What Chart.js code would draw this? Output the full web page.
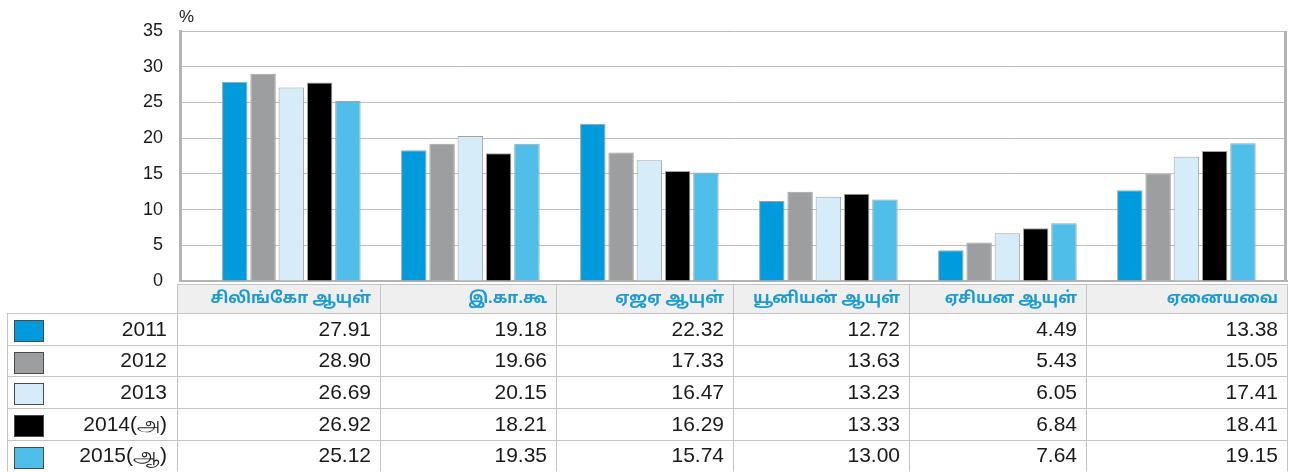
<!DOCTYPE html>
<html>
<head>
<meta charset="utf-8">
<script src="https://cdn.jsdelivr.net/npm/chart.js@4.4.0/dist/chart.umd.min.js"></script>
<style>
  html, body { margin: 0; padding: 0; background: #fff; }
</style>
</head>
<body>
<canvas id="chart" width="1299" height="472"></canvas>
<script>
const categories = ['சிலிங்கோ ஆயுள்', 'இ.கா.கூ', 'ஏஜஏ ஆயுள்', 'யூனியன் ஆயுள்', 'ஏசியன ஆயுள்', 'ஏனையவை'];
const years = ['2011', '2012', '2013', '2014(அ)', '2015(ஆ)'];
const colors = ['#009bdc', '#9d9ea0', '#d6ecf8', '#000000', '#4fbfea'];

// bar heights as drawn in the picture
const bars2011 = [27.9, 18.3, 22.0, 11.2, 4.3, 12.7];
const bars2012 = [29.0, 19.2, 18.0, 12.5, 5.4, 15.0];
const bars2013 = [27.1, 20.3, 16.9, 11.8, 6.7, 17.4];
const bars2014 = [27.8, 17.9, 15.4, 12.2, 7.4, 18.2];
const bars2015 = [25.2, 19.2, 15.2, 11.4, 8.1, 19.3];

// figures printed in the data table
const table2011 = ['27.91', '19.18', '22.32', '12.72', '4.49', '13.38'];
const table2012 = ['28.90', '19.66', '17.33', '13.63', '5.43', '15.05'];
const table2013 = ['26.69', '20.15', '16.47', '13.23', '6.05', '17.41'];
const table2014 = ['26.92', '18.21', '16.29', '13.33', '6.84', '18.41'];
const table2015 = ['25.12', '19.35', '15.74', '13.00', '7.64', '19.15'];

const barRows = [bars2011, bars2012, bars2013, bars2014, bars2015];
const tableRows = [table2011, table2012, table2013, table2014, table2015];

const NUM_FONT = '"Liberation Sans", Arial, sans-serif';
const TAMIL_FONT = '"Noto Sans Tamil", "Lohit Tamil", "Liberation Sans", sans-serif';

// data table drawn under the plot
const tablePlugin = {
    id: 'dataTable',
    afterDraw(chart) {
        const ctx = chart.ctx;
        const area = chart.chartArea;
        const cols = [177, 380, 556, 733, 909, 1086, 1287];
        const legendLeft = 7;
        const headTop = 284, headBottom = 313, rowH = 31.7;
        const bottom = headBottom + rowH * years.length;
        const px = v => Math.round(v) + 0.5;

        ctx.save();

        // % label and right frame
        ctx.fillStyle = '#1a1a1a';
        ctx.font = '17px ' + NUM_FONT;
        ctx.textAlign = 'left';
        ctx.textBaseline = 'middle';
        ctx.fillText('%', area.left - 1, 17);

        ctx.strokeStyle = '#b3b3b3';
        ctx.lineWidth = 3;
        ctx.beginPath();
        ctx.moveTo(area.right - 1.5, area.top);
        ctx.lineTo(area.right - 1.5, area.bottom + 1);
        ctx.stroke();

        // header background
        ctx.fillStyle = '#efefef';
        ctx.fillRect(cols[0], headTop, cols[cols.length - 1] - cols[0], headBottom - headTop);

        ctx.strokeStyle = '#c4c4c4';
        ctx.lineWidth = 1;
        ctx.beginPath();
        ctx.moveTo(cols[0], px(headTop));
        ctx.lineTo(cols[cols.length - 1], px(headTop));
        for (let r = 0; r <= years.length; r++) {
            const y = px(headBottom + rowH * r);
            ctx.moveTo(legendLeft, y);
            ctx.lineTo(cols[cols.length - 1], y);
        }
        ctx.moveTo(px(legendLeft), headBottom);
        ctx.lineTo(px(legendLeft), bottom);
        cols.forEach(x => {
            ctx.moveTo(px(x), headTop);
            ctx.lineTo(px(x), bottom);
        });
        ctx.stroke();

        // header labels
        ctx.textAlign = 'right';
        ctx.fillStyle = '#1b9ad8';
        ctx.font = 'bold 16px ' + TAMIL_FONT;
        categories.forEach((c, i) => {
            ctx.fillText(c, cols[i + 1] - 9, (headTop + headBottom) / 2 + 1);
        });

        // rows
        years.forEach((yr, r) => {
            const top = headBottom + rowH * r;
            const yc = top + rowH / 2 + 1;
            ctx.fillStyle = colors[r];
            ctx.fillRect(14, Math.round(top) + 7, 30, 22);
            ctx.strokeStyle = '#4a4a4a';
            ctx.strokeRect(14.5, Math.round(top) + 7.5, 29, 21);

            ctx.fillStyle = '#1a1a1a';
            ctx.font = '21px ' + NUM_FONT;
            ctx.fillText(yr, 167, yc);
            tableRows[r].forEach((v, c) => {
                ctx.fillText(v, cols[c + 1] - 9, yc);
            });
        });

        ctx.restore();
    }
};

new Chart(document.getElementById('chart'), {
    type: 'bar',
    data: {
        datasets: years.map((yr, r) => ({
            label: yr,
            data: barRows[r].map((v, i) => ({ x: i, y: v })),
            backgroundColor: colors[r],
            borderColor: '#a3a3a3',
            borderWidth: 1,
            categoryPercentage: 0.79,
            barPercentage: 0.9
        }))
    },
    options: {
        responsive: false,
        animation: false,
        layout: { padding: { top: 31, right: 12, bottom: 191, left: 0 } },
        plugins: {
            legend: { display: false },
            tooltip: { enabled: false }
        },
        scales: {
            x: {
                type: 'linear',
                offset: false,
                min: -0.622,
                max: 5.562,
                ticks: { display: false, stepSize: 1, includeBounds: false },
                grid: { display: false, drawTicks: false, offset: false },
                border: { display: true, color: '#b3b3b3', width: 2 }
            },
            y: {
                min: 0,
                max: 35,
                ticks: {
                    stepSize: 5,
                    padding: 17,
                    color: '#1a1a1a',
                    font: { family: NUM_FONT, size: 18 }
                },
                grid: { color: '#bdbdbd', lineWidth: 1, drawTicks: false },
                border: { display: true, color: '#b3b3b3', width: 3 },
                afterFit(scale) { scale.width = 180; }
            }
        }
    },
    plugins: [tablePlugin]
});
</script>
</body>
</html>
